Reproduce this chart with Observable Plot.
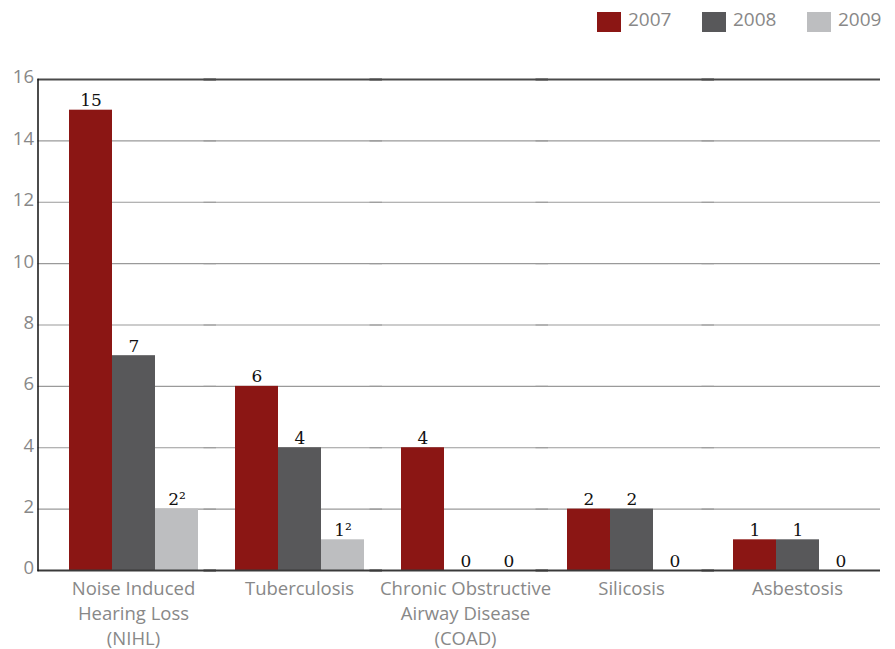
<!DOCTYPE html>
<html>
<head>
<meta charset="utf-8">
<script src="https://cdn.jsdelivr.net/npm/d3@7"></script>
<script src="https://cdn.jsdelivr.net/npm/@observablehq/plot@0.6"></script>
<style>
  html, body { margin: 0; padding: 0; background: #fff; overflow: hidden; }
  #wrap { position: relative; width: 895px; height: 649px; }
  #legend { position: absolute; top: 0; left: 0; width: 895px; height: 40px; overflow: hidden;
            font-family: "Open Sans", sans-serif; font-size: 19px; color: #888; }
  #legend .sw { position: absolute; top: 12px; width: 24px; height: 20px; }
  #legend .lb { position: absolute; top: 5px; line-height: 28px; white-space: nowrap; }
</style>
</head>
<body>
<div id="wrap">
  <div id="legend"></div>
  <div id="chart"></div>
</div>
<script>
// Occupational disease cases per year
const categories = [
  "Noise Induced\nHearing Loss\n(NIHL)",
  "Tuberculosis",
  "Chronic Obstructive\nAirway Disease\n(COAD)",
  "Silicosis",
  "Asbestosis"
];
const years = ["2007", "2008", "2009"];
const cases2007 = [15, 6, 4, 2, 1];
const cases2008 = [7, 4, 0, 2, 1];
const cases2009 = [2, 1, 0, 0, 0];
const notes2009 = ["²", "²", "", "", ""];
const yTicks = [0, 2, 4, 6, 8, 10, 12, 14, 16];
const colors = ["#8b1614", "#58585a", "#bdbec0"];

const series = [cases2007, cases2008, cases2009];
const notes = [categories.map(() => ""), categories.map(() => ""), notes2009];
const rows = categories.flatMap((category, i) =>
  years.map((year, j) => ({category, year, value: series[j][i], note: notes[j][i]}))
);

// legend
const legend = document.getElementById("legend");
const legendLeft = [597, 702, 807];
years.forEach((year, j) => {
  const sw = document.createElement("div");
  sw.className = "sw";
  sw.style.left = legendLeft[j] + "px";
  sw.style.background = colors[j];
  legend.appendChild(sw);
  const lb = document.createElement("div");
  lb.className = "lb";
  lb.style.left = (legendLeft[j] + 31) + "px";
  lb.textContent = year;
  legend.appendChild(lb);
});

// the category groups start a little to the right of the y axis line
const gap = 12.5;

const chart = Plot.plot({
  width: 895,
  height: 649,
  marginTop: 79,
  marginBottom: 79,
  marginLeft: 37,
  marginRight: 16,
  style: {fontFamily: "'Open Sans', sans-serif", background: "transparent"},
  fx: {domain: categories, padding: 0, insetLeft: gap, insetRight: -1},
  x: {domain: years, paddingInner: 0, paddingOuter: 0.43, axis: null},
  y: {domain: [0, 16], axis: null},
  color: {domain: years, range: colors},
  marks: [
    Plot.ruleY(yTicks.filter(d => d > 0 && d < 16), {insetLeft: -gap, stroke: "#9a9a9a", strokeWidth: 1.2}),
    Plot.barY(rows, {fx: "category", x: "year", y: "value", fill: "year"}),
    Plot.text(rows, {
      fx: "category", x: "year", y: "value",
      text: d => `${d.value}${d.note}`,
      lineAnchor: "bottom", dy: -4,
      fontFamily: "'DejaVu Serif', serif", fontSize: 17, fill: "#111"
    }),
    Plot.ruleY([16], {insetLeft: -gap, stroke: "#4a4a4a", strokeWidth: 2.2}),
    Plot.ruleY([0], {insetLeft: -gap, stroke: "#3a3a3a", strokeWidth: 2}),
    Plot.frame({anchor: "left", facetAnchor: "left", dx: -gap, stroke: "#111", strokeWidth: 1.5}),
    Plot.axisY(yTicks, {
      anchor: "left", label: null, tickSize: 0, tickPadding: 4, dx: -gap, dy: -2,
      fontSize: 18.5, fill: "#888"
    }),
    Plot.axisFx({
      anchor: "bottom", label: null, tickSize: 0, tickPadding: 6,
      fontSize: 18.5, fill: "#888", lineHeight: 1.37
    })
  ]
});
document.getElementById("chart").appendChild(chart);
</script>
</body>
</html>
